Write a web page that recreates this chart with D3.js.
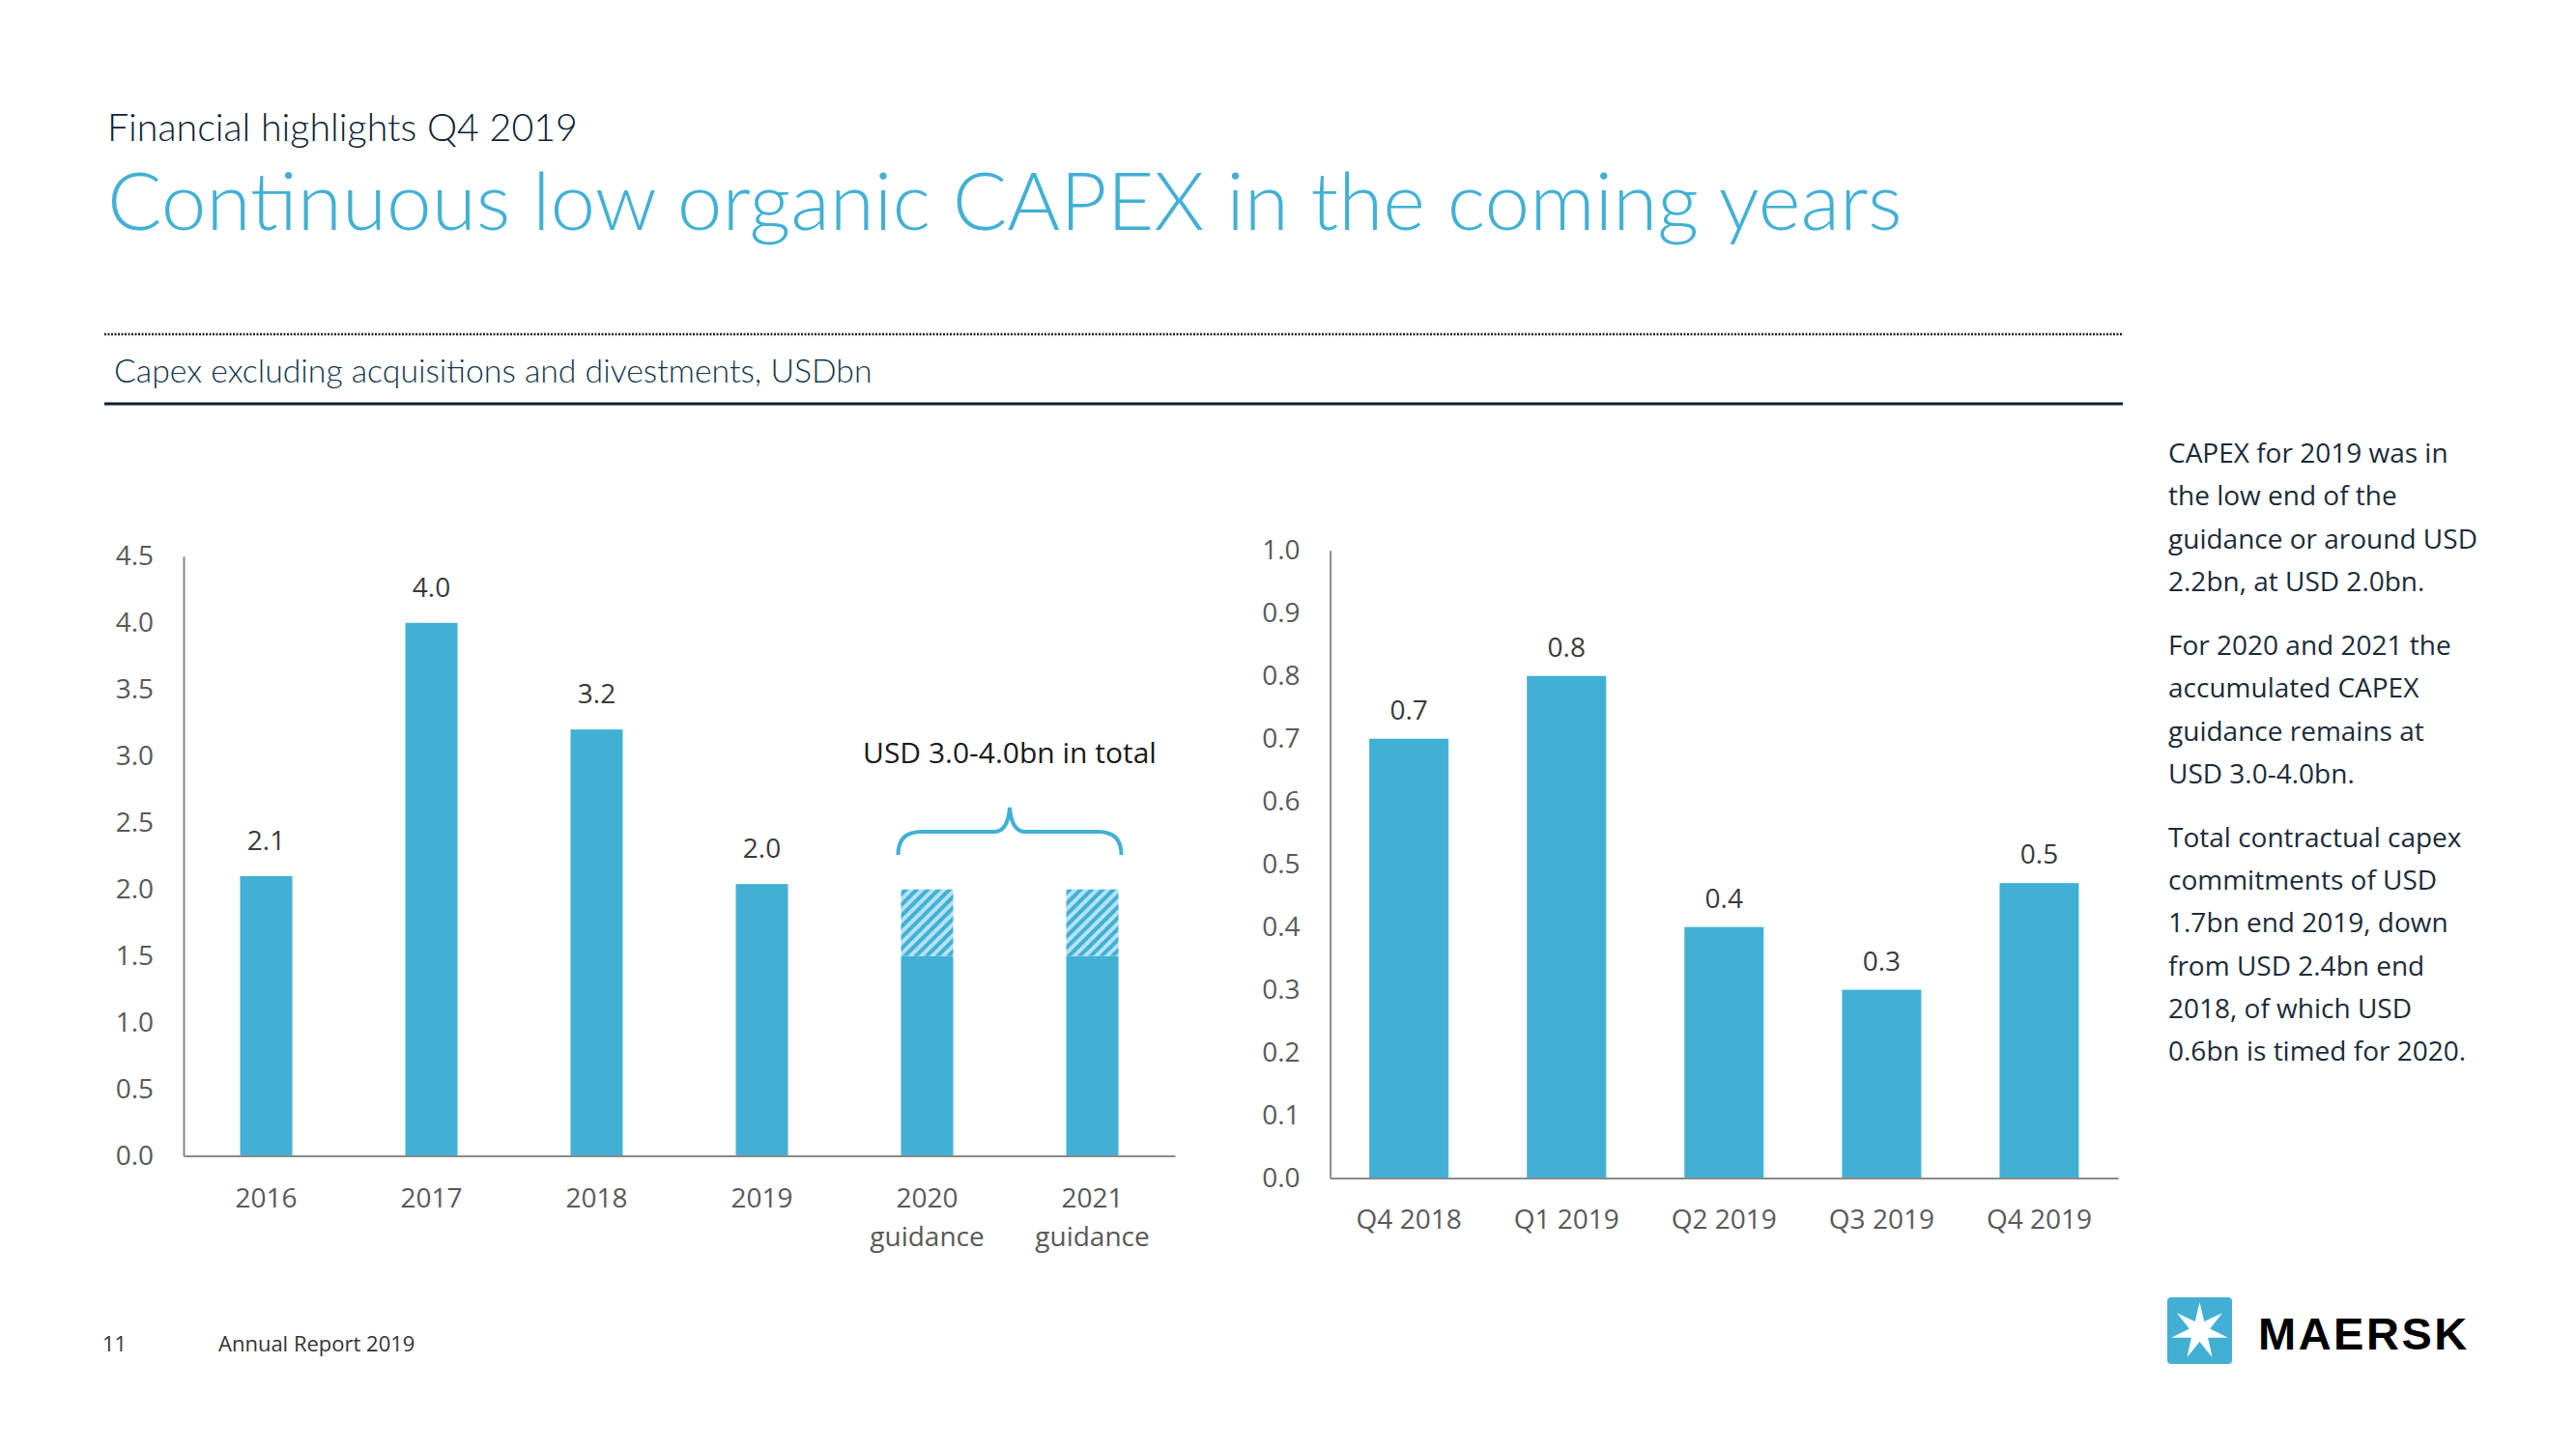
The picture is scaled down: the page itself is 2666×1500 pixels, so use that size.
<!DOCTYPE html>
<html><head><meta charset="utf-8">
<script src="https://cdn.jsdelivr.net/npm/d3@7"></script>
<style>html,body{margin:0;padding:0;background:#fff;}svg{display:block;}</style>
</head><body>
<script>
// ---- data ----
const yearCats = ["2016","2017","2018","2019","2020\nguidance","2021\nguidance"];
const yearSolid = [2.10, 4.00, 3.20, 2.04, 1.50, 1.50];
const yearHatch = [0, 0, 0, 0, 0.50, 0.50];
const yearLabels = ["2.1","4.0","3.2","2.0","",""];
const yearTicks = [0,0.5,1.0,1.5,2.0,2.5,3.0,3.5,4.0,4.5];

const qCats = ["Q4 2018","Q1 2019","Q2 2019","Q3 2019","Q4 2019"];
const qValues = [0.70, 0.80, 0.40, 0.30, 0.47];
const qLabels = ["0.7","0.8","0.4","0.3","0.5"];
const qTicks = [0,0.1,0.2,0.3,0.4,0.5,0.6,0.7,0.8,0.9,1.0];

const braceText = "USD 3.0-4.0bn in total";
const sideText = [
  ["CAPEX for 2019 was in","the low end of the","guidance or around USD","2.2bn, at USD 2.0bn."],
  ["For 2020 and 2021 the","accumulated CAPEX","guidance remains at","USD 3.0-4.0bn."],
  ["Total contractual capex","commitments of USD","1.7bn end 2019, down","from USD 2.4bn end","2018, of which USD","0.6bn is timed for 2020."]
];

const BLUE = "#42b0d5", NAVY = "#0b2135", GRID = "#8a8a8a", TICK = "#595959", LABEL = "#3a3a3a";
const FONT = "'Open Sans', sans-serif";

const W = 2666, H = 1500;
const svg = d3.select("body").append("svg").attr("width", W).attr("height", H);
svg.append("rect").attr("width", W).attr("height", H).attr("fill", "#fff");

function fitWidth(sel, w) {
  const l = sel.node().getComputedTextLength();
  const fs = parseFloat(sel.attr("font-size"));
  sel.attr("font-size", fs * w / l);
}

// ---- header ----
const t0 = svg.append("text").attr("x", 111).attr("y", 146).attr("font-family", "Lato, sans-serif")
  .attr("font-weight", 300).attr("font-size", 38).attr("fill", NAVY).text("Financial highlights Q4 2019");
fitWidth(t0, 487);
const t1 = svg.append("text").attr("x", 111).attr("y", 238).attr("font-family", "Lato, sans-serif")
  .attr("font-weight", 300).attr("font-size", 84).attr("fill", BLUE).text("Continuous low organic CAPEX in the coming years");
fitWidth(t1, 1858);

svg.append("line").attr("x1", 108).attr("x2", 2197).attr("y1", 346).attr("y2", 346)
  .attr("stroke", "#222").attr("stroke-width", 2.5).attr("stroke-dasharray", "2,1.5");
const t2 = svg.append("text").attr("x", 118).attr("y", 396).attr("font-family", "Lato, sans-serif")
  .attr("font-weight", 300).attr("font-size", 34).attr("fill", "#14364f").text("Capex excluding acquisitions and divestments, USDbn");
fitWidth(t2, 785);
svg.append("line").attr("x1", 108).attr("x2", 2197).attr("y1", 418).attr("y2", 418)
  .attr("stroke", NAVY).attr("stroke-width", 3);

// ---- hatch pattern ----
const defs = svg.append("defs");
const pat = defs.append("pattern").attr("id", "hatch").attr("patternUnits", "userSpaceOnUse")
  .attr("width", 8).attr("height", 8).attr("patternTransform", "rotate(45)");
pat.append("rect").attr("width", 8).attr("height", 8).attr("fill", "#b5e2f2");
pat.append("line").attr("x1", 2).attr("x2", 2).attr("y1", 0).attr("y2", 8).attr("stroke", BLUE).attr("stroke-width", 4);

function styleAxis(g) {
  g.select(".domain").attr("stroke", GRID).attr("stroke-width", 2);
  g.selectAll("text").attr("font-family", FONT).attr("font-size", 28).attr("fill", TICK);
}

// ---- left chart ----
const xL = d3.scaleBand().domain(yearCats).range([190, 1216]).paddingInner(0.684).paddingOuter(0.342);
const yL = d3.scaleLinear().domain([0, 4.5]).range([1196.6, 575.8]);

const gyL = svg.append("g").attr("transform", "translate(190,0)")
  .call(d3.axisLeft(yL).tickValues(yearTicks).tickFormat(d3.format(".1f")).tickSize(0).tickSizeOuter(0).tickPadding(31));
styleAxis(gyL);

svg.append("g").selectAll("rect").data(yearCats).join("rect")
  .attr("x", d => xL(d)).attr("width", xL.bandwidth())
  .attr("y", (d, i) => yL(yearSolid[i])).attr("height", (d, i) => yL(0) - yL(yearSolid[i]))
  .attr("fill", BLUE);
svg.append("g").selectAll("rect").data(yearCats.filter((d, i) => yearHatch[i] > 0)).join("rect")
  .attr("x", d => xL(d)).attr("width", xL.bandwidth())
  .attr("y", d => { const i = yearCats.indexOf(d); return yL(yearSolid[i] + yearHatch[i]); })
  .attr("height", d => { const i = yearCats.indexOf(d); return yL(yearSolid[i]) - yL(yearSolid[i] + yearHatch[i]); })
  .attr("fill", "url(#hatch)");

svg.append("g").selectAll("text").data(yearCats).join("text")
  .attr("x", d => xL(d) + xL.bandwidth() / 2)
  .attr("y", (d, i) => yL(yearSolid[i] + yearHatch[i]) - 27)
  .attr("text-anchor", "middle").attr("font-family", FONT).attr("font-size", 28).attr("fill", LABEL)
  .text((d, i) => yearLabels[i]);

const gxL = svg.append("g").attr("transform", `translate(0,${yL(0)})`)
  .call(d3.axisBottom(xL).tickSize(0).tickSizeOuter(0).tickFormat(""));
gxL.select(".domain").attr("stroke", GRID).attr("stroke-width", 2);
const xlabL = svg.append("g").selectAll("text").data(yearCats).join("text")
  .attr("text-anchor", "middle").attr("font-family", FONT).attr("font-size", 28).attr("fill", TICK);
xlabL.each(function(d) {
  const parts = d.split("\n");
  const t = d3.select(this);
  parts.forEach((p, k) => t.append("tspan").attr("x", xL(d) + xL.bandwidth() / 2)
    .attr("y", yL(0) + 53 + k * 40).text(p));
});

// brace
const bx0 = xL(yearCats[4]) - 3, bx1 = xL(yearCats[5]) + xL.bandwidth() + 3;
const bmid = (bx0 + bx1) / 2, byLow = 885, byLine = 861, byTop = 836, r = 24;
svg.append("path").attr("fill", "none").attr("stroke", BLUE).attr("stroke-width", 4)
  .attr("d", `M${bx0},${byLow} Q${bx0},${byLine} ${bx0 + r},${byLine} L${bmid - 16},${byLine} Q${bmid - 2},${byLine} ${bmid},${byTop} Q${bmid + 2},${byLine} ${bmid + 16},${byLine} L${bx1 - r},${byLine} Q${bx1},${byLine} ${bx1},${byLow}`);
svg.append("text").attr("x", bmid).attr("y", 790).attr("text-anchor", "middle")
  .attr("font-family", FONT).attr("font-size", 30).attr("fill", "#1a1a1a").text(braceText);

// ---- right chart ----
const xR = d3.scaleBand().domain(qCats).range([1376.6, 2192]).paddingInner(0.497).paddingOuter(0.2485);
const yR = d3.scaleLinear().domain([0, 1.0]).range([1219.5, 569.8]);

const gyR = svg.append("g").attr("transform", "translate(1376.6,0)")
  .call(d3.axisLeft(yR).tickValues(qTicks).tickFormat(d3.format(".1f")).tickSize(0).tickSizeOuter(0).tickPadding(31));
styleAxis(gyR);

svg.append("g").selectAll("rect").data(qCats).join("rect")
  .attr("x", d => xR(d)).attr("width", xR.bandwidth())
  .attr("y", (d, i) => yR(qValues[i])).attr("height", (d, i) => yR(0) - yR(qValues[i]))
  .attr("fill", BLUE);
svg.append("g").selectAll("text").data(qCats).join("text")
  .attr("x", d => xR(d) + xR.bandwidth() / 2)
  .attr("y", (d, i) => yR(qValues[i]) - 20)
  .attr("text-anchor", "middle").attr("font-family", FONT).attr("font-size", 28).attr("fill", LABEL)
  .text((d, i) => qLabels[i]);

const gxR = svg.append("g").attr("transform", `translate(0,${yR(0)})`)
  .call(d3.axisBottom(xR).tickSize(0).tickSizeOuter(0).tickPadding(33));
styleAxis(gxR);
gxR.selectAll("text").attr("dy", "0.71em");

// ---- side text ----
const side = svg.append("g");
let yy = 479;
sideText.forEach((para, pi) => {
  para.forEach((line, li) => {
    side.append("text").attr("x", 2244).attr("y", yy).attr("font-family", FONT).attr("font-size", 28)
      .attr("fill", "#1b2b3a").text(line);
    yy += 44.3;
  });
  yy += 21.7;
});

// ---- footer ----
svg.append("text").attr("x", 106).attr("y", 1399).attr("font-family", FONT).attr("font-size", 22)
  .attr("fill", "#333").text("11");
svg.append("text").attr("x", 226).attr("y", 1399).attr("font-family", FONT).attr("font-size", 22)
  .attr("fill", "#333").text("Annual Report 2019");

// logo
svg.append("rect").attr("x", 2243).attr("y", 1343).attr("width", 67).attr("height", 69).attr("rx", 4).attr("fill", BLUE);
const cx = 2276.5, cy = 1378;
const starPts = d3.range(14).map(i => {
  const a = -Math.PI / 2 + i * Math.PI / 7;
  const rr = i % 2 === 0 ? 30 : 11;
  return [cx + rr * Math.cos(a), cy + rr * Math.sin(a)];
});
svg.append("polygon").attr("points", starPts.map(p => p.join(",")).join(" ")).attr("fill", "#fff");
svg.append("text").attr("x", 2337).attr("y", 1397).attr("font-family", "'Liberation Sans', Arial, sans-serif")
  .attr("font-weight", 700).attr("font-size", 47).attr("letter-spacing", 2.5).attr("fill", "#000").text("MAERSK");
</script>
</body></html>
